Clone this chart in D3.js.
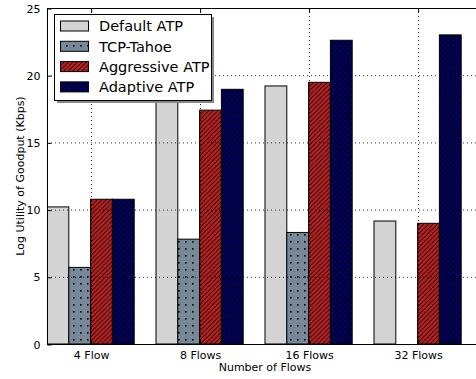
<!DOCTYPE html>
<html><head><meta charset="utf-8">
<script src="https://cdn.jsdelivr.net/npm/d3@7"></script>
<style>body{margin:0;background:#fff}svg{display:block}text{font-family:"DejaVu Sans",sans-serif}</style>
</head><body><svg id="c" width="476" height="379"></svg>
<script>
const categories = ["4 Flow", "8 Flows", "16 Flows", "32 Flows"];
const seriesNames = ["Default ATP", "TCP-Tahoe", "Aggressive ATP", "Adaptive ATP"];
const defaultATP = [10.2, 18.6, 19.2, 9.15];
const tcpTahoe = [5.7, 7.8, 8.3, 0];
const aggressiveATP = [10.77, 17.4, 19.47, 8.98];
const adaptiveATP = [10.77, 18.95, 22.6, 23.0];
const yTicks = [0, 5, 10, 15, 20, 25];

const series = [defaultATP, tcpTahoe, aggressiveATP, adaptiveATP];
const fills = ["url(#pDef)", "url(#pTcp)", "url(#pAgg)", "url(#pAda)"];

const svg = d3.select("#c");
const L = 47, R = 483, T = 8, B = 344;
const x = d3.scaleLinear().domain([0, 4]).range([L, R]);
const y = d3.scaleLinear().domain([0, 25]).range([B, T]);
const bw = 0.2;

const defs = svg.append("defs");
let p = defs.append("pattern").attr("id", "pDef").attr("patternUnits", "userSpaceOnUse").attr("width", 4).attr("height", 4);
p.append("rect").attr("width", 4).attr("height", 4).attr("fill", "#d3d3d3");
p = defs.append("pattern").attr("id", "pTcp").attr("patternUnits", "userSpaceOnUse").attr("width", 7).attr("height", 7);
p.append("rect").attr("width", 7).attr("height", 7).attr("fill", "#778899");
p.append("rect").attr("x", 3).attr("y", 3).attr("width", 1.6).attr("height", 1.6).attr("fill", "#000");
p = defs.append("pattern").attr("id", "pAgg").attr("patternUnits", "userSpaceOnUse").attr("width", 4.5).attr("height", 4.5);
p.append("rect").attr("width", 4.5).attr("height", 4.5).attr("fill", "#b22222");
p.append("path").attr("d", "M-1,1 L1,-1 M0,4.5 L4.5,0 M3.5,5.5 L5.5,3.5").attr("stroke", "#000").attr("stroke-width", 0.9);
p = defs.append("pattern").attr("id", "pAda").attr("patternUnits", "userSpaceOnUse").attr("width", 5.4).attr("height", 5.4);
p.append("rect").attr("width", 5.4).attr("height", 5.4).attr("fill", "#000080");
p.append("path").attr("d", "M0,0 L5.4,5.4 M0,5.4 L5.4,0 M-1,1 L1,-1 M4.4,6.4 L6.4,4.4 M-1,4.4 L1,6.4 M4.4,-1 L6.4,1").attr("stroke", "#000").attr("stroke-width", 1.1);

const clip = defs.append("clipPath").attr("id", "clipA");
clip.append("rect").attr("x", L).attr("y", T).attr("width", R - L).attr("height", B - T);

const gBars = svg.append("g").attr("clip-path", "url(#clipA)");
series.forEach((vals, si) => {
  gBars.selectAll(null).data(vals.map((v, i) => ({ v, i }))).enter()
    .filter(d => d.v > 0)
    .append("rect")
    .attr("x", d => x(d.i + si * bw))
    .attr("y", d => y(d.v))
    .attr("width", d => x(d.i + (si + 1) * bw) - x(d.i + si * bw))
    .attr("height", d => y(0) - y(d.v))
    .attr("fill", fills[si])
    .attr("stroke", "#000").attr("stroke-width", 1);
});

const gGrid = svg.append("g").attr("clip-path", "url(#clipA)");
gGrid.selectAll(null).data(yTicks.slice(1, -1)).enter().append("line")
  .attr("x1", L).attr("x2", R).attr("y1", d => y(d) + 0.5).attr("y2", d => y(d) + 0.5)
  .attr("stroke", "#000").attr("stroke-width", 0.8).attr("stroke-dasharray", "1,3");
gGrid.selectAll(null).data(categories.map((c, i) => i + 0.4)).enter().append("line")
  .attr("y1", T).attr("y2", B).attr("x1", d => Math.round(x(d)) + 0.5).attr("x2", d => Math.round(x(d)) + 0.5)
  .attr("stroke", "#000").attr("stroke-width", 0.8).attr("stroke-dasharray", "1,3");

svg.append("rect").attr("x", L + 0.5).attr("y", T + 0.5).attr("width", R - L).attr("height", B - T)
  .attr("fill", "none").attr("stroke", "#000").attr("stroke-width", 1);

const yAxis = d3.axisLeft(y).tickValues(yTicks).tickSize(-4).tickPadding(7).tickFormat(d3.format("d"));
const gy = svg.append("g").attr("transform", `translate(${L + 0.5},0.5)`).call(yAxis);
gy.select(".domain").remove();
gy.selectAll("text").attr("font-size", 11).attr("fill", "#000");
const yAxisR = d3.axisRight(y).tickValues(yTicks).tickSize(-4).tickFormat("");
const gyr = svg.append("g").attr("transform", `translate(${R + 0.5},0.5)`).call(yAxisR);
gyr.select(".domain").remove();

const xAxis = d3.axisBottom(x).tickValues(categories.map((c, i) => i + 0.4)).tickSize(-4).tickPadding(7)
  .tickFormat((d, i) => categories[i]);
const gx = svg.append("g").attr("transform", `translate(0.5,${B + 0.5})`).call(xAxis);
gx.select(".domain").remove();
gx.selectAll("text").attr("font-size", 11).attr("fill", "#000");
const xAxisT = d3.axisTop(x).tickValues(categories.map((c, i) => i + 0.4)).tickSize(-4).tickFormat("");
const gxt = svg.append("g").attr("transform", `translate(0.5,${T + 0.5})`).call(xAxisT);
gxt.select(".domain").remove();

svg.append("text").attr("x", (L + R) / 2).attr("y", 371).attr("text-anchor", "middle").attr("font-size", 11).text("Number of Flows");
svg.append("text").attr("transform", `translate(24,${(T + B) / 2}) rotate(-90)`).attr("text-anchor", "middle").attr("font-size", 11).text("Log Utility of Goodput (Kbps)");

const lg = svg.append("g");
lg.append("rect").attr("x", 57).attr("y", 17).attr("width", 157).attr("height", 86).attr("fill", "#888");
lg.append("rect").attr("x", 54.5).attr("y", 14.5).attr("width", 157).attr("height", 86).attr("fill", "#fff").attr("stroke", "#000").attr("stroke-width", 1);
seriesNames.forEach((n, i) => {
  const cy = 26 + i * 20.3;
  lg.append("rect").attr("x", 60.5).attr("y", cy - 5).attr("width", 28).attr("height", 10).attr("fill", fills[i]).attr("stroke", "#000").attr("stroke-width", 1);
  lg.append("text").attr("x", 99).attr("y", cy + 5.3).attr("font-size", 14.5).text(n);
});
</script></body></html>
